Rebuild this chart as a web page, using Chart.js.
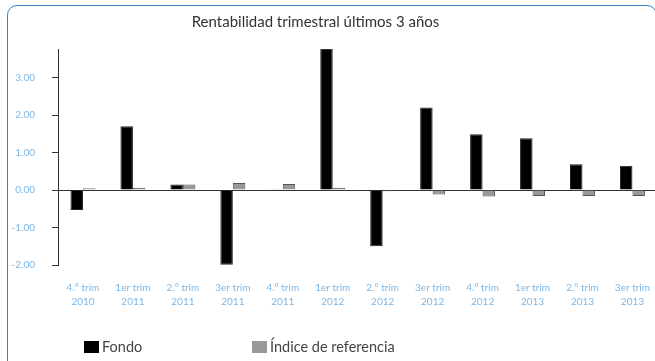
<!DOCTYPE html>
<html>
<head>
<meta charset="utf-8">
<script src="https://cdn.jsdelivr.net/npm/chart.js@4"></script>
<style>
  html, body { margin: 0; padding: 0; background: #fff; overflow: hidden; }
  body { width: 655px; height: 361px; position: relative; font-family: Lato, sans-serif; }
  #frame {
    position: absolute; left: 7px; top: 5px; width: 650px; height: 380px;
    border: 1.5px solid #3a7ec0; border-radius: 10px; box-sizing: border-box;
  }
  #wrap { position: absolute; left: -27px; top: 0; width: 685px; height: 361px; }
  .legend { position: absolute; top: 338px; font-size: 14.5px; color: #444; }
  .legend span { display: inline-block; width: 15px; height: 12px; vertical-align: -1px; margin-right: 3px; }
</style>
</head>
<body>
<div id="frame"></div>
<div id="wrap"><canvas id="chart" width="685" height="361"></canvas></div>
<div class="legend" style="left:84px"><span style="background:#000"></span>Fondo</div>
<div class="legend" style="left:252px"><span style="background:#999"></span>Índice de referencia</div>
<script>
// data
const labels = [
  ['4.° trim', '2010'], ['1er trim', '2011'], ['2.° trim', '2011'], ['3er trim', '2011'],
  ['4.° trim', '2011'], ['1er trim', '2012'], ['2.° trim', '2012'], ['3er trim', '2012'],
  ['4.° trim', '2012'], ['1er trim', '2013'], ['2.° trim', '2013'], ['3er trim', '2013']
];
const fondo = [-0.53, 1.70, 0.15, -1.99, 0.02, 3.78, -1.50, 2.20, 1.49, 1.38, 0.69, 0.65];
const indice = [0.05, 0.06, 0.15, 0.19, 0.16, 0.06, -0.03, -0.12, -0.17, -0.16, -0.16, -0.16];
const yTicks = [-2, -1, 0, 1, 2, 3];

const blue = '#7cb7e6';

new Chart(document.getElementById('chart').getContext('2d'), {
  type: 'bar',
  data: {
    labels: labels,
    datasets: [
      { label: 'Fondo', data: fondo, backgroundColor: '#000', borderColor: '#222', borderWidth: 1 },
      { label: 'Índice de referencia', data: indice, backgroundColor: '#999', borderColor: '#555', borderWidth: 1 }
    ]
  },
  options: {
    responsive: false,
    animation: false,
    layout: { padding: 0 },
    datasets: { bar: { categoryPercentage: 0.5, barPercentage: 1 } },
    scales: {
      x: {
        afterFit: s => { s.height = 96; },
        grid: { display: false },
        border: { display: false },
        ticks: { color: blue, font: { family: 'Lato', size: 10, lineHeight: 1.4 }, padding: 8, maxRotation: 0, autoSkip: false }
      },
      y: {
        min: -2, max: 3.76,
        afterFit: s => { s.width = 85; },
        afterBuildTicks: s => { s.ticks = yTicks.map(v => ({ value: v })); },
        border: { display: true, color: '#333', width: 1 },
        grid: {
          color: c => c.tick && c.tick.value === 0 ? '#333' : 'rgba(0,0,0,0)',
          tickColor: '#333', tickLength: 6, lineWidth: 1
        },
        ticks: { color: blue, font: { family: 'Lato', size: 10 }, padding: 17, callback: v => v.toFixed(2) }
      }
    },
    plugins: {
      legend: { display: false },
      tooltip: { enabled: false },
      title: {
        display: true,
        text: 'Rentabilidad trimestral últimos 3 años',
        color: '#333',
        font: { family: 'Lato', size: 15, weight: 'normal', lineHeight: 1.2 },
        padding: { top: 13, bottom: 18 }
      }
    }
  }
});
</script>
</body>
</html>
